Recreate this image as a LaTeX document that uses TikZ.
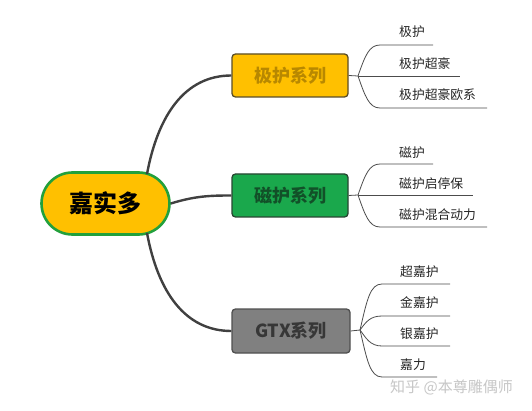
\documentclass[tikz,border=0pt]{standalone}
\usepackage{fontspec}
\setmainfont{Noto Sans CJK SC}
\begin{document}
\begin{tikzpicture}[x=1pt,y=-1pt,
  conn/.style={draw=black!75, line width=2.4pt},
  twig/.style={draw=black!70, line width=0.8pt},
  rootbox/.style={draw={rgb,255:red,34;green,160;blue,60}, line width=2.6pt, fill={rgb,255:red,255;green,192;blue,0}, rounded corners=31pt, minimum width=128pt, minimum height=62pt, inner sep=0pt, font=\fontsize{24}{26}\selectfont\bfseries},
  catbox/.style={line width=1.3pt, rounded corners=3.5pt, minimum width=116pt, minimum height=43pt, inner sep=0pt, font=\fontsize{18}{20}\selectfont\bfseries},
  leaf/.style={anchor=west, inner sep=0pt, font=\fontsize{12.8}{14}\selectfont, text=black!85}
]
\useasboundingbox (0,0) rectangle (532,411);
\fill[white] (0,0) rectangle (532,411);

% root
\node[rootbox] (root) at (105.5,203.5) {嘉实多};

% categories
\node[catbox, draw={rgb,255:red,90;green,78;blue,40}, fill={rgb,255:red,255;green,192;blue,0}, text={rgb,255:red,184;green,136;blue,0}] (c1) at (290,75.5) {极护系列};
\node[catbox, draw={rgb,255:red,40;green,70;blue,50}, fill={rgb,255:red,26;green,168;blue,76}, text={rgb,255:red,18;green,80;blue,40}] (c2) at (290,195.5) {磁护系列};
\node[catbox, draw={rgb,255:red,80;green,80;blue,80}, fill={rgb,255:red,128;green,128;blue,128}, text={rgb,255:red,55;green,55;blue,55}, minimum width=118pt, minimum height=44pt] (c3) at (291,331) {GTX系列};

% root connectors
\coordinate (rt) at (147,174);
\coordinate (rb) at (147,233);
\draw[conn] (rt) .. controls (158,115) and (185,75.5) .. (c1.west);
\draw[conn] (root.east) .. controls (195,196) and (210,195.5) .. (c2.west);
\draw[conn] (rb) .. controls (158,292) and (185,331) .. (c3.west);

% forks
\coordinate (f1) at (358,76);
\coordinate (f2) at (358,195);
\coordinate (f3) at (360,330);
\draw[twig] (c1.east) -- (f1);
\draw[twig] (c2.east) -- (f2);
\draw[twig] (c3.east) -- (f3);

% leaves of group 1
\node[leaf] (a1) at (399,32) {极护};
\node[leaf] (a2) at (399,64) {极护超豪};
\node[leaf] (a3) at (399,95) {极护超豪欧系};
\coordinate (a1e) at (433,45);
\coordinate (a2e) at (460,76);
\coordinate (a3e) at (487,108);
\draw[twig] (f1) .. controls (365,56) and (369,45) .. (380,45) -- (a1e);
\draw[twig] (f1) -- (a2e);
\draw[twig] (f1) .. controls (365,96) and (369,108) .. (380,108) -- (a3e);

% leaves of group 2
\node[leaf] (b1) at (399,153) {磁护};
\node[leaf] (b2) at (399,184) {磁护启停保};
\node[leaf] (b3) at (399,215) {磁护混合动力};
\coordinate (b1e) at (433,164);
\coordinate (b2e) at (473,195);
\coordinate (b3e) at (487,227);
\draw[twig] (f2) .. controls (365,175) and (369,164) .. (380,164) -- (b1e);
\draw[twig] (f2) -- (b2e);
\draw[twig] (f2) .. controls (365,215) and (369,227) .. (380,227) -- (b3e);

% leaves of group 3
\node[leaf] (g1) at (400,272) {超嘉护};
\node[leaf] (g2) at (400,303) {金嘉护};
\node[leaf] (g3) at (400,334) {银嘉护};
\node[leaf] (g4) at (400,365) {嘉力};
\coordinate (g1e) at (450,284);
\coordinate (g2e) at (450,316);
\coordinate (g3e) at (450,346);
\coordinate (g4e) at (437,377);
\draw[twig] (f3) .. controls (367,300) and (370,284) .. (382,284) -- (g1e);
\draw[twig] (f3) .. controls (366,322) and (370,316) .. (382,316) -- (g2e);
\draw[twig] (f3) .. controls (366,338) and (370,346) .. (382,346) -- (g3e);
\draw[twig] (f3) .. controls (367,360) and (370,377) .. (382,377) -- (g4e);

% watermark
\node[anchor=west, inner sep=0pt, font=\fontsize{15}{17}\selectfont, text=black!22] (wm) at (390,387) {知乎 @本尊雕偶师};
\end{tikzpicture}
\end{document}
